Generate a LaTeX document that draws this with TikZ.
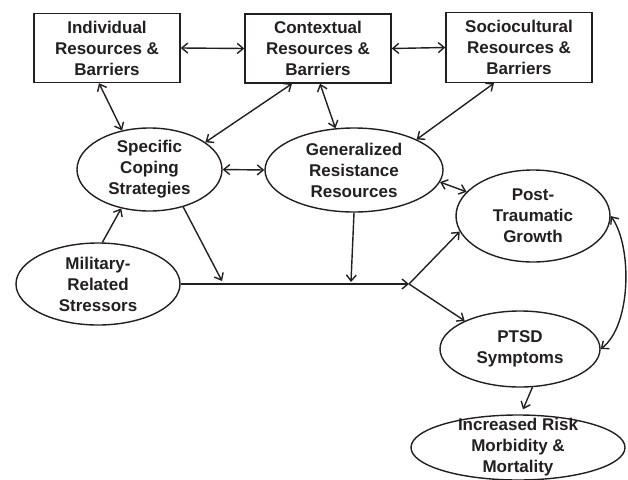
\documentclass[tikz,border=0pt]{standalone}
\usepackage{fontspec}
\setmainfont{Liberation Sans}
\usetikzlibrary{shapes.geometric,arrows.meta,calc}
\definecolor{ink}{RGB}{35,31,32}
\begin{document}
\begin{tikzpicture}[x=1pt,y=-1pt,
  every node/.style={font=\fontsize{17}{21}\selectfont\bfseries, text=ink, align=center},
  box/.style={draw=ink, line width=1.4pt, rectangle, minimum width=146pt, minimum height=69pt, inner sep=0pt},
  oval/.style={draw=ink, line width=1.4pt, ellipse, inner sep=0pt},
  link/.style={draw=ink, line width=1.4pt, {Straight Barb[length=6pt,width=10pt]}-{Straight Barb[length=6pt,width=10pt]}},
  go/.style={draw=ink, line width=1.4pt, -{Straight Barb[length=6pt,width=10pt]}}
]
\useasboundingbox (0,0) rectangle (628,479);

% boxes
\node[box] (ind) at (107,48) {Individual\\Resources \&\\Barriers};
\node[box] (ctx) at (318,48.5) {Contextual\\Resources \&\\Barriers};
\node[box, minimum height=70pt] (soc) at (519,47.5) {Sociocultural\\Resources \&\\Barriers};

% ellipses
\node[oval, minimum width=145pt, minimum height=83pt] (spec) at (149.5,169.5) {Specific\\Coping\\Strategies};
\node[oval, minimum width=178pt, minimum height=84pt] (gen) at (354,170) {Generalized\\Resistance\\Resources};
\node[oval, minimum width=154pt, minimum height=92pt] (ptg) at (533,216) {Post-\\Traumatic\\Growth};
\node[oval, minimum width=164pt, minimum height=82pt] (mil) at (98,284) {Military-\\Related\\Stressors};
\node[oval, minimum width=160pt, minimum height=76pt] (ptsd) at (520,349) {PTSD\\Symptoms};
\node[oval, minimum width=214pt, minimum height=65pt] (inc) at (518,447.5) {};
\node (inctext) at (inc.center) {Increased Risk\\Morbidity \&\\Mortality};

% junction points
\coordinate (j) at (409,284);
\coordinate (m1) at (222,281);
\coordinate (m2) at (351,282);

% connectors
\draw[link] (ind.east) -- (ctx.west);
\draw[link] (ctx.east) -- (soc.west);
\draw[link] ([xshift=-8pt]ind.south) -- (spec.125);
\draw[link] ([xshift=-26pt]ctx.south) -- (spec.26);
\draw[link] ([xshift=2pt]ctx.south) -- (gen.114);
\draw[link] ([xshift=-25pt]soc.south) -- (gen.26);
\draw[link] (spec.east) -- (gen.west);
\draw[link] (gen.-8) -- (ptg.160);
\draw[go] (mil.84) -- (spec.234);
\draw[go] (spec.-48) -- (m1);
\draw[go] (gen.south) -- (m2);
\draw[go] (mil.east) -- (j);
\draw[go] (j) -- (ptg.192);
\draw[go] (j) -- (ptsd.153);
\draw[link] (ptg.east) .. controls (632,245) and (632,325) .. (ptsd.east);
\draw[go] (ptsd.-72) -- ([shift={(5pt,5pt)}]inc.north);
\end{tikzpicture}
\end{document}
